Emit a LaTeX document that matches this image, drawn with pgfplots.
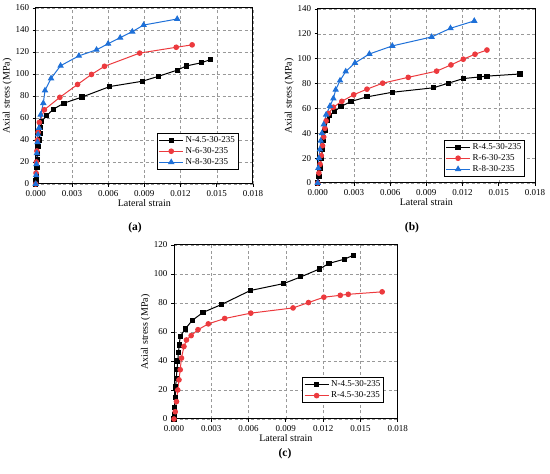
\documentclass[border=0pt]{standalone}
\usepackage{pgfplots}
\pgfplotsset{compat=1.18}
\usepackage{fontspec}
\setmainfont{Liberation Serif}
\definecolor{cred}{RGB}{236,58,62}
\definecolor{cblue}{RGB}{30,112,216}
\pgfplotsset{
  myax/.style={
    scale only axis,
    anchor=south west,
    xmin=0, xmax=0.018,
    ymin=0,
    xtick={0,0.003,0.006,0.009,0.012,0.015,0.018},
    xticklabel style={/pgf/number format/fixed,/pgf/number format/fixed zerofill,/pgf/number format/precision=3},
    scaled x ticks=false,
    /pgf/number format/assume math mode=true,
    tick label style={font=\fontsize{9}{10}\selectfont},
    label style={font=\fontsize{10}{11}\selectfont},
    xlabel={Lateral strain},
    ylabel={Axial stress (MPa)},
    xlabel style={yshift=4pt},
    ylabel style={yshift=-3pt},
    axis line style={line width=1pt},
    tick align=outside,
    xtick pos=left, ytick pos=left,
    major tick length=3pt,
    tick style={line width=0.8pt,black},
    grid=major,
    grid style={dash pattern=on 3pt off 2.5pt,gray!80,line width=0.55pt},
    legend cell align=left,
    legend style={font=\fontsize{9}{11}\selectfont, draw=black, line width=0.9pt, inner sep=1.5pt, row sep=-0.5pt},
    legend image code/.code={\draw[mark repeat=2,mark phase=2] plot coordinates {(0cm,0cm) (0.42cm,0cm) (0.84cm,0cm)};},
  },
  sblack/.style={black, line width=1pt, mark=square*, mark size=2.1pt, mark options={solid}},
  sred/.style={cred, line width=1pt, mark=*, mark size=2.3pt, mark options={solid}},
  sblue/.style={cblue, line width=1pt, mark=triangle*, mark size=2.8pt, mark options={solid}},
}
\begin{document}
\begin{tikzpicture}[x=1pt,y=1pt]
\useasboundingbox (0,0) rectangle (550,474);
% ---------------- (a)
\begin{axis}[myax, at={(35.7pt,290pt)}, width=217.3pt, height=176pt,
  ymax=160, ytick={0,20,...,160},
  legend style={at={(0.935,0.08)}, anchor=south east}]
\addplot[sblack] coordinates {(0,0) (0.00003,3) (0.00006,8) (0.0001,15) (0.00014,22) (0.00018,28) (0.00024,34) (0.0003,40) (0.00036,46) (0.00042,51) (0.0005,57) (0.0009,62) (0.00146,68) (0.00234,73.5) (0.00383,79) (0.00614,88.6) (0.00883,93.4) (0.0102,98) (0.01172,103.5) (0.01247,107.3) (0.01371,110.2) (0.01445,113)};
\addlegendentry{N-4.5-30-235}
\addplot[sred] coordinates {(0,0) (0.00003,10) (0.00006,20) (0.0001,30) (0.00014,40) (0.0002,47) (0.0003,56) (0.00072,67.5) (0.002,78.8) (0.00347,90.5) (0.00462,99.6) (0.0057,107) (0.00861,119) (0.01164,124.3) (0.01296,126.5)};
\addlegendentry{N-6-30-235}
\addplot[sblue] coordinates {(0,0) (0.00003,8) (0.00006,18) (0.0001,28) (0.00015,38) (0.0002,45) (0.00028,51) (0.00041,63) (0.00063,73.5) (0.00077,85) (0.00127,96) (0.00206,107.5) (0.00358,116.5) (0.00504,122) (0.006,127.5) (0.007,133) (0.008,138.5) (0.00894,144.5) (0.01172,150)};
\addlegendentry{N-8-30-235}
\end{axis}
% ---------------- (b)
\begin{axis}[myax, at={(317.7pt,291pt)}, width=217.3pt, height=174pt,
  ymax=140, ytick={0,20,...,140},
  legend style={at={(0.955,0.035)}, anchor=south east}]
\addplot[sblack] coordinates {(0,0) (0.0001,5) (0.0002,12) (0.0003,20) (0.0004,27) (0.0005,34) (0.0006,42) (0.0008,50) (0.001,54.5) (0.00138,57.5) (0.00193,61.6) (0.00276,65.6) (0.00408,69.3) (0.00618,73) (0.00958,76.6) (0.01082,80.3) (0.01206,84) (0.01338,85.3) (0.01402,86) (0.01675,87.7)};
\addlegendentry{R-4.5-30-235}
\addplot[sred] coordinates {(0,0) (0.0001,8) (0.0002,15) (0.0003,22) (0.0004,30) (0.0005,37) (0.0006,44) (0.0007,50) (0.0009,56) (0.0013,61) (0.002,65.7) (0.00298,71) (0.00408,75.5) (0.00538,80.3) (0.0075,85) (0.00985,90) (0.01104,95) (0.01206,99.6) (0.01303,103.6) (0.01402,107)};
\addlegendentry{R-6-30-235}
\addplot[sblue] coordinates {(0,0) (0.00005,12) (0.0001,20) (0.00018,27) (0.00025,34) (0.00035,40) (0.0005,47) (0.0007,55) (0.00102,62) (0.0013,68) (0.00149,75) (0.00185,82.4) (0.00232,89.7) (0.00309,96.6) (0.00428,103.8) (0.00618,110.3) (0.00944,117.5) (0.011,124.5) (0.01297,130.4)};
\addlegendentry{R-8-30-235}
\end{axis}
% ---------------- (c)
\begin{axis}[myax, at={(174pt,55pt)}, width=223.7pt, height=174pt,
  ymax=120, ytick={0,20,...,120},
  legend style={at={(0.94,0.09)}, anchor=south east}]
\addplot[sblack] coordinates {(0,0) (0.00003,3) (0.00006,8) (0.0001,15) (0.00014,22) (0.00018,28) (0.00024,34) (0.0003,40) (0.00036,46) (0.00042,51) (0.0005,57) (0.0009,62) (0.00146,68) (0.00234,73.5) (0.00383,79) (0.00614,88.6) (0.00883,93.4) (0.0102,98) (0.01172,103.5) (0.01247,107.3) (0.01371,110.2) (0.01445,113)};
\addlegendentry{N-4.5-30-235}
\addplot[sred] coordinates {(0,0) (0.0001,5) (0.0002,12) (0.0003,20) (0.0004,27) (0.0005,34) (0.0006,42) (0.0008,50) (0.001,54.5) (0.00138,57.5) (0.00193,61.6) (0.00276,65.6) (0.00408,69.3) (0.00618,73) (0.00958,76.6) (0.01082,80.3) (0.01206,84) (0.01338,85.3) (0.01402,86) (0.01675,87.7)};
\addlegendentry{R-4.5-30-235}
\end{axis}
\node[font=\bfseries\fontsize{11.5}{13}\selectfont] at (135,246) {(a)};
\node[font=\bfseries\fontsize{11.5}{13}\selectfont] at (412,246) {(b)};
\node[font=\bfseries\fontsize{11.5}{13}\selectfont] at (285,20) {(c)};
\end{tikzpicture}
\end{document}
